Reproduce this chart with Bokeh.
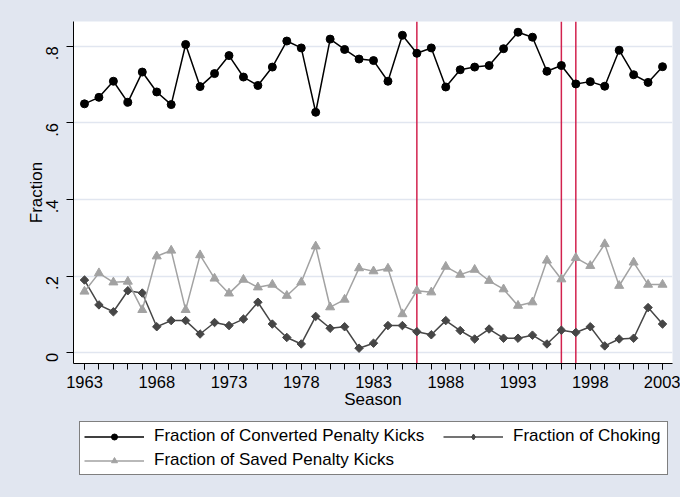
import math
from bokeh.plotting import figure
from bokeh.layouts import column
from bokeh.models import (Range1d, FixedTicker, CustomJSTickFormatter, Span,
                          Legend, LegendItem)
from bokeh.embed import file_html
from bokeh.resources import INLINE

# ---------------- data ----------------
seasons = list(range(1963, 2004))
converted = [0.650, 0.667, 0.709, 0.654, 0.733, 0.681, 0.648,
             0.805, 0.695, 0.729, 0.776, 0.720, 0.698, 0.746, 0.814, 0.796, 0.628,
             0.819, 0.792, 0.767, 0.763, 0.709, 0.829, 0.782, 0.796, 0.694, 0.739,
             0.746, 0.750, 0.794, 0.837, 0.824, 0.735, 0.750, 0.702, 0.708, 0.696,
             0.790, 0.726, 0.706, 0.747]
choking = [0.190, 0.125, 0.107, 0.162, 0.156, 0.068, 0.084,
           0.084, 0.049, 0.079, 0.071, 0.088, 0.132, 0.075, 0.040, 0.023, 0.095,
           0.064, 0.068, 0.012, 0.025, 0.071, 0.071, 0.055, 0.047, 0.084, 0.058,
           0.036, 0.062, 0.038, 0.038, 0.046, 0.023, 0.059, 0.053, 0.068, 0.018,
           0.036, 0.038, 0.118, 0.075]
saved = [0.160, 0.208, 0.184, 0.186, 0.112, 0.252, 0.267,
         0.112, 0.255, 0.194, 0.155, 0.191, 0.171, 0.178, 0.149, 0.184, 0.278,
         0.119, 0.139, 0.221, 0.213, 0.220, 0.101, 0.162, 0.158, 0.225, 0.204,
         0.217, 0.188, 0.166, 0.123, 0.132, 0.241, 0.192, 0.248, 0.227, 0.284,
         0.175, 0.236, 0.178, 0.178]
break_seasons = [1986, 1996, 1997]
x_ticks = list(range(1963, 2004, 5))
y_ticks = [0, 0.2, 0.4, 0.6, 0.8]
labels = ["Fraction of Converted Penalty Kicks", "Fraction of Choking",
          "Fraction of Saved Penalty Kicks"]

BG = "#E1E6F0"
FONT = "Liberation Sans"
W, H_MAIN, H_LEG = 680, 415, 82
NAN = float("nan")

p = figure(width=W, height=H_MAIN, output_backend="svg", toolbar_location=None,
           x_range=Range1d(1962.24, 2003.69), y_range=Range1d(-0.028, 0.865),
           min_border_left=73, min_border_right=8, min_border_top=21,
           min_border_bottom=52)
p.background_fill_color = "white"
p.border_fill_color = BG
p.outline_line_color = None

# grid
p.xgrid.visible = False
p.ygrid.grid_line_color = BG
p.ygrid.grid_line_width = 1.5

# x axis
xa = p.xaxis[0]
xa.ticker = FixedTicker(ticks=x_ticks, minor_ticks=seasons)
xa.axis_label = "Season"
xa.major_tick_out = 6
xa.major_tick_in = 0
xa.minor_tick_out = 6
xa.minor_tick_in = 0
xa.major_label_text_font = FONT
xa.major_label_text_font_size = "16.5px"
xa.major_label_text_color = "black"
xa.major_label_standoff = 6
xa.axis_label_text_font = FONT
xa.axis_label_text_font_size = "17px"
xa.axis_label_text_font_style = "normal"
xa.axis_label_text_color = "black"
xa.axis_label_standoff = -1
xa.axis_line_color = "black"
xa.major_tick_line_color = "black"
xa.minor_tick_line_color = "black"

# y axis
ya = p.yaxis[0]
ya.ticker = FixedTicker(ticks=y_ticks)
ya.formatter = CustomJSTickFormatter(
    code="if (Math.abs(tick) < 1e-9) { return '0'; } return tick.toFixed(1).replace(/^0/, '');")
ya.major_label_orientation = math.pi / 2
ya.major_tick_out = 7
ya.major_tick_in = 0
ya.minor_tick_line_color = None
ya.major_label_text_font = FONT
ya.major_label_text_font_size = "16.5px"
ya.major_label_text_color = "black"
ya.major_label_standoff = 14
ya.axis_label = "Fraction"
ya.axis_label_text_font = FONT
ya.axis_label_text_font_size = "17px"
ya.axis_label_text_font_style = "normal"
ya.axis_label_text_color = "black"
ya.axis_label_standoff = -8
ya.axis_line_color = "black"
ya.major_tick_line_color = "black"

# vertical event lines
for s in break_seasons:
    p.add_layout(Span(location=s, dimension="height", line_color="#D2224E",
                      line_width=1.5, level="underlay"))

# series
c_conv, c_chok, c_save = "black", "#464646", "#A2A2A2"
p.line(seasons, converted, line_color=c_conv, line_width=1.5)
p.scatter(seasons, converted, marker="circle", size=8,
          fill_color=c_conv, line_color=c_conv)
p.line(seasons, choking, line_color=c_chok, line_width=1.5)
p.scatter(seasons, choking, marker="square", size=6, angle=math.pi / 4,
          fill_color=c_chok, line_color=c_chok)
p.line(seasons, saved, line_color=c_save, line_width=1.5)
p.scatter(seasons, saved, marker="triangle", size=9,
          fill_color=c_save, line_color=c_save)

# ---------------- legend area ----------------
lp = figure(width=W, height=H_LEG, output_backend="svg", toolbar_location=None,
            x_range=Range1d(0, 1), y_range=Range1d(0, 1),
            x_axis_location=None, y_axis_location=None,
            min_border=0, min_border_left=0, min_border_right=0,
            min_border_top=0, min_border_bottom=0)
lp.grid.visible = False
lp.background_fill_alpha = 0
lp.border_fill_alpha = 0
lp.outline_line_color = None

kl1 = lp.line([NAN], [NAN], line_color=c_conv, line_width=1.5)
ks1 = lp.scatter([NAN], [NAN], marker="circle", fill_color=c_conv, line_color=c_conv)
kl2 = lp.line([NAN], [NAN], line_color=c_chok, line_width=1.5)
ks2 = lp.scatter([NAN], [NAN], marker="diamond", fill_color=c_chok, line_color=c_chok)
kl3 = lp.line([NAN], [NAN], line_color=c_save, line_width=1.5)
ks3 = lp.scatter([NAN], [NAN], marker="triangle", fill_color=c_save, line_color=c_save)


def style(lg):
    lg.glyph_width = 60
    lg.glyph_height = 15
    lg.label_standoff = 10
    lg.label_height = 20
    lg.spacing = 4
    lg.padding = 4
    lg.margin = 0
    lg.label_text_font = FONT
    lg.label_text_font_size = "17px"
    lg.label_text_color = "black"


# main box: first column of entries, widened to the full box width
leg1 = Legend(items=[LegendItem(label=labels[0], renderers=[kl1, ks1]),
                     LegendItem(label=labels[2], renderers=[kl3, ks3])],
              orientation="vertical", location=(6, 22))
style(leg1)
leg1.label_width = 509
leg1.border_line_color = "black"
leg1.border_line_width = 1
leg1.background_fill_color = "white"
leg1.background_fill_alpha = 1
lp.add_layout(leg1, "center")

# second column entry
leg2 = Legend(items=[LegendItem(label=labels[1], renderers=[kl2, ks2])],
              orientation="vertical", location=(370, 51))
style(leg2)
leg2.border_line_color = None
leg2.background_fill_alpha = 0
lp.add_layout(leg2, "center")

layout = column(p, lp, spacing=0, styles={"background-color": BG})
open("out.html", "w").write(file_html(layout, INLINE))
